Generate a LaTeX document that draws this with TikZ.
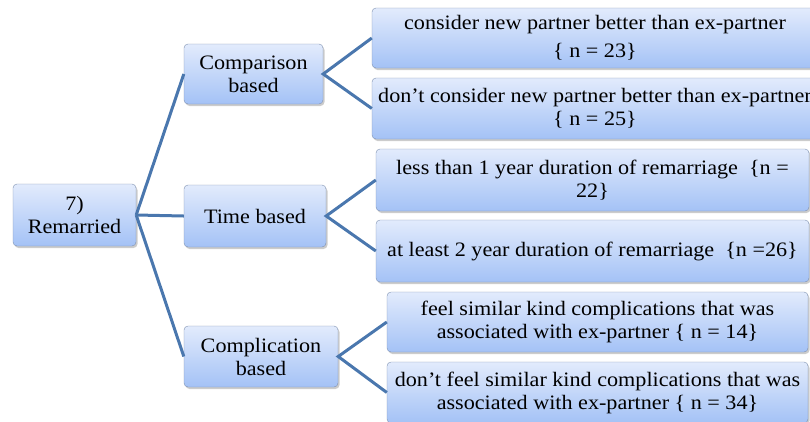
\documentclass[tikz,border=0pt]{standalone}
\usepackage{fontspec}
\setmainfont[FakeStretch=1.08]{Liberation Serif}
\usetikzlibrary{shadows}

\definecolor{boxtop}{HTML}{E2EBFC}
\definecolor{boxbottom}{HTML}{A4C2F6}
\definecolor{boxline}{HTML}{7F91B0}
\definecolor{linkblue}{HTML}{4A77AE}

\tikzset{
  tbox/.style={draw=boxline, rounded corners=4pt, top color=boxtop,
    bottom color=boxbottom, align=center, inner sep=2pt,
    drop shadow={shadow xshift=1.5pt, shadow yshift=-2pt, fill=black!40},
    font=\fontsize{20.5}{23}\selectfont},
  link/.style={draw=linkblue, line width=3pt},
}

\begin{document}
\begin{tikzpicture}[x=1pt,y=-1pt]
  \useasboundingbox (0,0) rectangle (810,421);

  % Root
  \node[tbox, minimum width=123pt, minimum height=62pt] (remarried) at (74.5,215)
    {7)\\Remarried};

  % Middle level
  \node[tbox, minimum width=139pt, minimum height=60pt] (comparison) at (253.5,74)
    {Comparison\\based};
  \node[tbox, minimum width=142pt, minimum height=62pt] (time) at (255,216)
    {Time based};
  \node[tbox, minimum width=154pt, minimum height=61pt] (complication) at (261,356.5)
    {Complication\\based};

  % Leaves
  \node[tbox, minimum width=446pt, minimum height=60pt] (better) at (595,38)
    {consider new partner better than ex-partner\\[5pt]\{ n = 23\}};
  \node[tbox, minimum width=446pt, minimum height=61pt] (notbetter) at (595,108.5)
    {don't consider new partner better than ex-partner\\\{ n = 25\}};
  \node[tbox, minimum width=433pt, minimum height=62pt] (lessone) at (592.5,180)
    {less than 1 year duration of remarriage~~\{n =\\22\}};
  \node[tbox, minimum width=433pt, minimum height=62pt] (leasttwo) at (592.5,251)
    {at least 2 year duration of remarriage~~\{n =26\}};
  \node[tbox, minimum width=421pt, minimum height=60pt] (similar) at (597.5,322)
    {feel similar kind complications that was\\associated with ex-partner \{ n = 14\}};
  \node[tbox, minimum width=421pt, minimum height=61pt] (notsimilar) at (597.5,392.5)
    {don't feel similar kind complications that was\\associated with ex-partner \{ n = 34\}};

  % Links
  \draw[link] (remarried.east) -- (comparison.west);
  \draw[link] (remarried.east) -- (time.west);
  \draw[link] (remarried.east) -- (complication.west);
  \draw[link] (better.west) -- (comparison.east) -- (notbetter.west);
  \draw[link] (lessone.west) -- (time.east) -- (leasttwo.west);
  \draw[link] (similar.west) -- (complication.east) -- (notsimilar.west);

\end{tikzpicture}
\end{document}
